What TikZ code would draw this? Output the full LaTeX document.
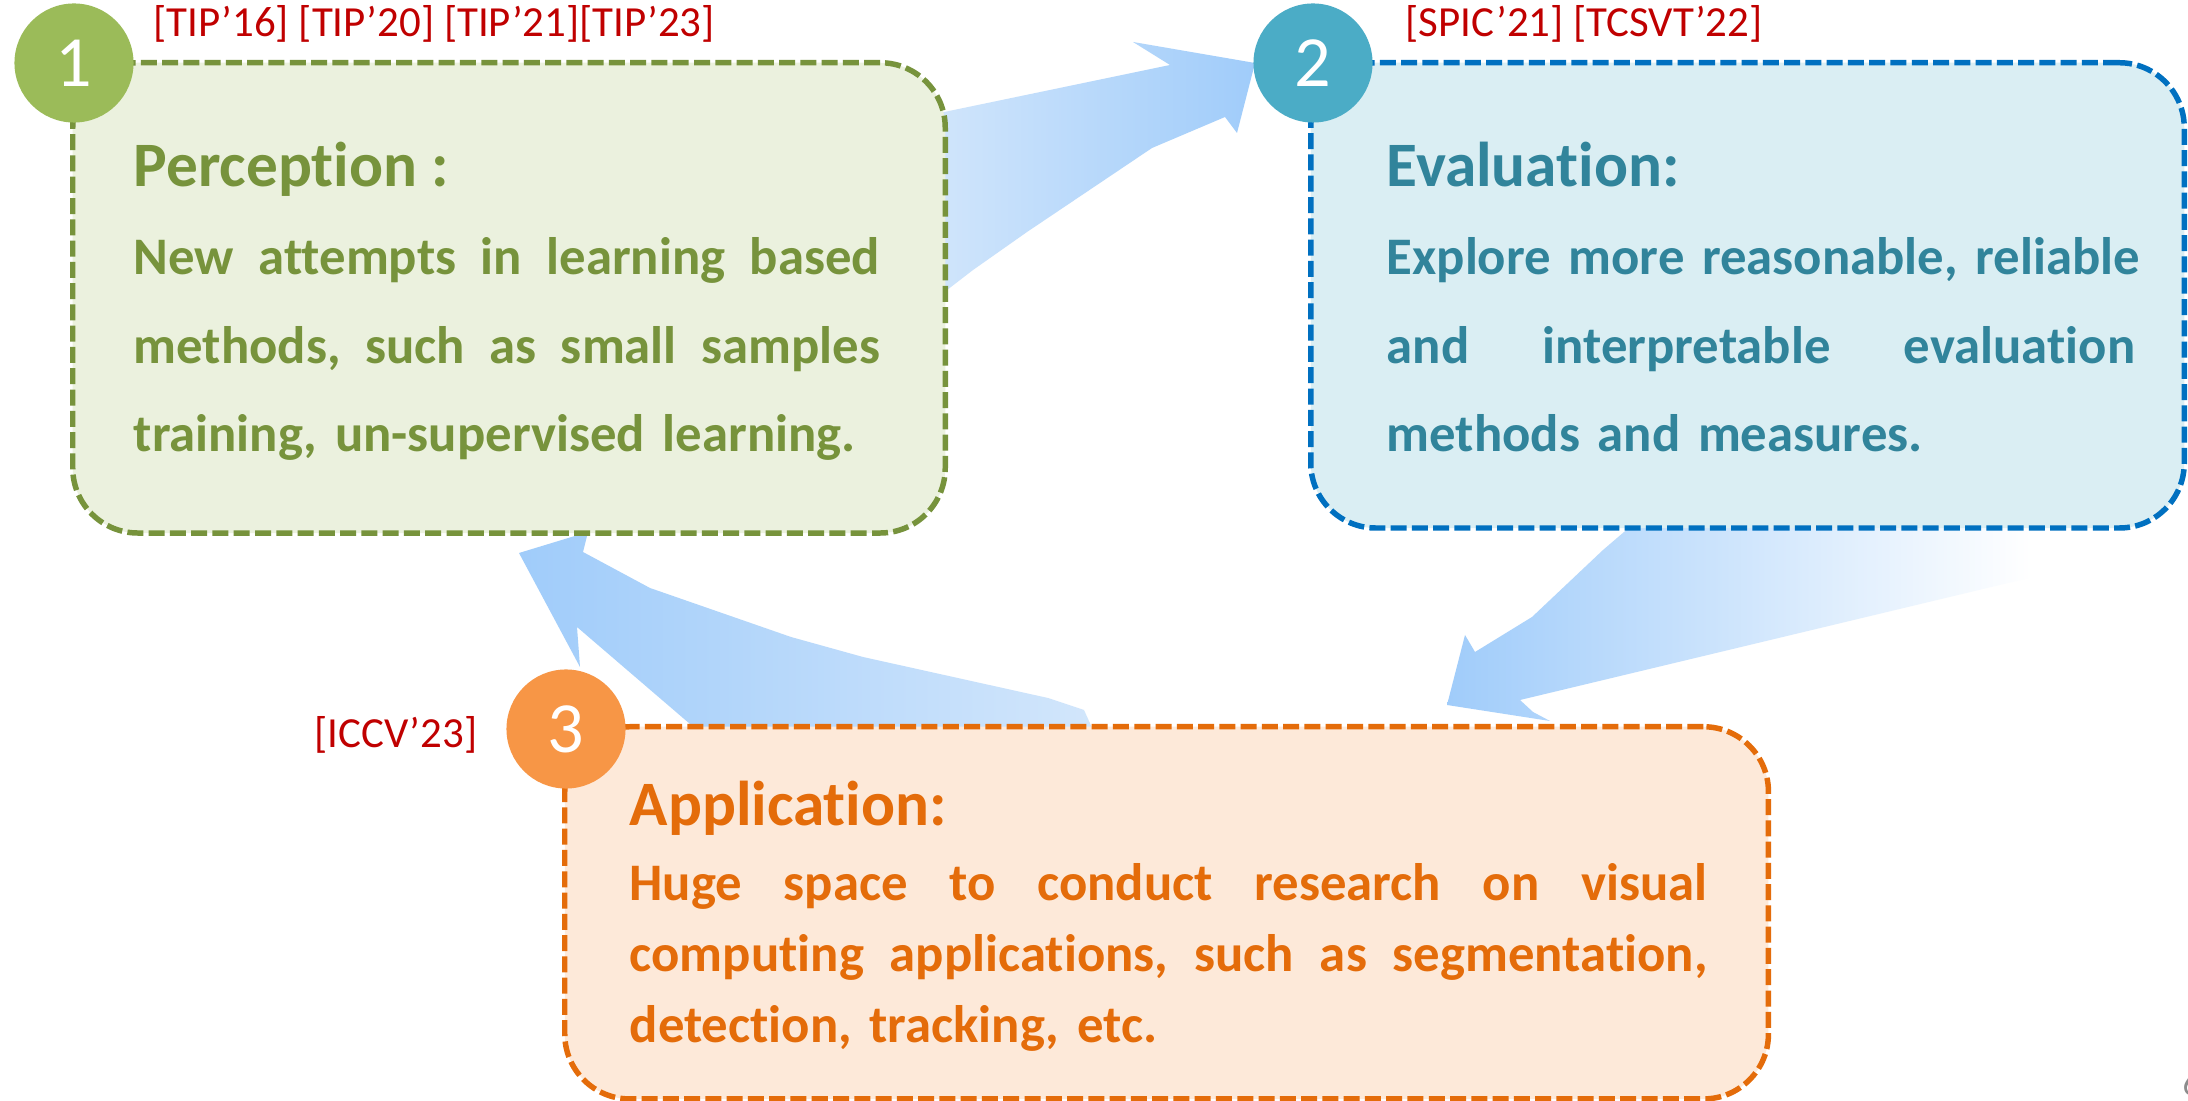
\documentclass[tikz,border=0pt]{standalone}
\usepackage{fontspec}
\setmainfont{Carlito}[Ligatures=NoCommon]
\definecolor{gfill}{HTML}{EBF1DE}
\definecolor{gline}{HTML}{77933C}
\definecolor{gcirc}{HTML}{9BBB59}
\definecolor{bfill}{HTML}{DAEEF3}
\definecolor{bline}{HTML}{0070C0}
\definecolor{btext}{HTML}{31849B}
\definecolor{bcirc}{HTML}{4BACC6}
\definecolor{ofill}{HTML}{FDE9D9}
\definecolor{oline}{HTML}{E46C0A}
\definecolor{ocirc}{HTML}{F79646}
\definecolor{refred}{HTML}{C00000}
\definecolor{arrsat}{RGB}{160,204,250}
\definecolor{arrlight}{RGB}{210,230,251}
\definecolor{pagegray}{RGB}{140,140,140}
\newcommand{\jline}[2]{\leavevmode\hbox to #1{#2}}
\begin{document}
\begin{tikzpicture}[x=0.01cm,y=-0.01cm,
  card/.style={line width=1.56pt, dash pattern=on 4.55pt off 1.5pt, rounded corners=0.65cm, anchor=north west, inner sep=0pt},
  numdot/.style={circle, minimum size=1.19cm, inner sep=0pt, text=white, font=\fontsize{20.5}{24}\selectfont},
  reflabel/.style={text=refred, font=\fontsize{12.2}{14}\selectfont, inner sep=0pt, anchor=base west},
  ttl/.style={font=\bfseries\fontsize{18}{22}\selectfont, inner sep=0pt, anchor=base west},
  bodytxt/.style={inner sep=0pt, anchor=base west, align=left},
]
\useasboundingbox (0,0) rectangle (2188,1101);
\fill[white] (0,0) rectangle (2188,1101);

% block arrows
\shade[left color=arrlight, right color=arrsat]
  (925,116) -- (1170,65) -- (1133,42) -- (1255,63) -- (1237,133) -- (1225,117)
  -- (1152,148) -- (1027,232) -- (973,270) -- (925,307) -- cycle;
\shade[left color=arrsat, right color=white]
  (1638,520) -- (2033,520) -- (2033,577) -- (1520,700) -- (1533,712) -- (1550,721)
  -- (1447,705) -- (1465,635) -- (1475,652) -- (1532,617) -- (1603,550) -- cycle;
\shade[left color=arrsat, right color=arrlight]
  (519,553) -- (588,532) -- (583,552) -- (650,588) -- (791,637) -- (863,657)
  -- (1048,698) -- (1084,710) -- (1093,730) -- (697,730) -- (577,627) -- (580,667) -- cycle;

% boxes
\node[card, draw=gline, fill=gfill, minimum width=8.72cm, minimum height=4.70cm] (box1) at (70,60) {};
\node[card, draw=bline, fill=bfill, minimum width=8.73cm, minimum height=4.65cm] (box2) at (1308,60) {};
\node[card, draw=oline, fill=ofill, minimum width=12.03cm, minimum height=3.72cm] (box3) at (562,724) {};

% number circles
\node[numdot, fill=gcirc] (c1) at (74,63) {1};
\node[numdot, fill=bcirc] (c2) at (1313,63) {2};
\node[numdot, fill=ocirc] (c3) at (566,729) {3};

% references
\node[reflabel] (r1) at (153,37) {[TIP’16] [TIP’20] [TIP’21][TIP’23]};
\node[reflabel] (r2) at (1405,37) {[SPIC’21] [TCSVT’22]};
\node[reflabel] (r3) at (314,748) {[ICCV’23]};

% titles
\node[ttl, text=gline] (t1) at (133,187) {Perception :};
\node[ttl, text=btext] (t2) at (1386,187) {Evaluation:};
\node[ttl, text=oline] (t3) at (629,826) {Application:};

% bodies
\node[bodytxt, text=gline, text width=7.46cm, font=\bfseries\fontsize{15}{25.04}\selectfont] (b1) at (133,275)
  {\jline{7.46cm}{New\hfill\ attempts\hfill\ in\hfill\ learning\hfill\ based}\\
   \jline{7.46cm}{methods,\hfill\ such\hfill\ as\hfill\ small\hfill\ samples}\\
   training, un-supervised learning.};
\node[bodytxt, text=btext, text width=7.48cm, font=\bfseries\fontsize{15}{25.04}\selectfont] (b2) at (1386,275)
  {\jline{7.48cm}{Explore\hfill\ more\hfill\ reasonable,\hfill\ reliable}\\
   \jline{7.48cm}{and\hfill\ interpretable\hfill\ evaluation}\\
   methods and measures.};
\node[bodytxt, text=oline, text width=10.77cm, font=\bfseries\fontsize{15}{20.2}\selectfont] (b3) at (629,900)
  {\jline{10.77cm}{Huge\hfill\ space\hfill\ to\hfill\ conduct\hfill\ research\hfill\ on\hfill\ visual}\\
   \jline{10.77cm}{computing\hfill\ applications,\hfill\ such\hfill\ as\hfill\ segmentation,}\\
   detection, tracking, etc.};

% page number
\node[text=pagegray, font=\fontsize{10}{12}\selectfont, anchor=base west, inner sep=0pt] (pg) at (2182,1095) {6};
\end{tikzpicture}
\end{document}
